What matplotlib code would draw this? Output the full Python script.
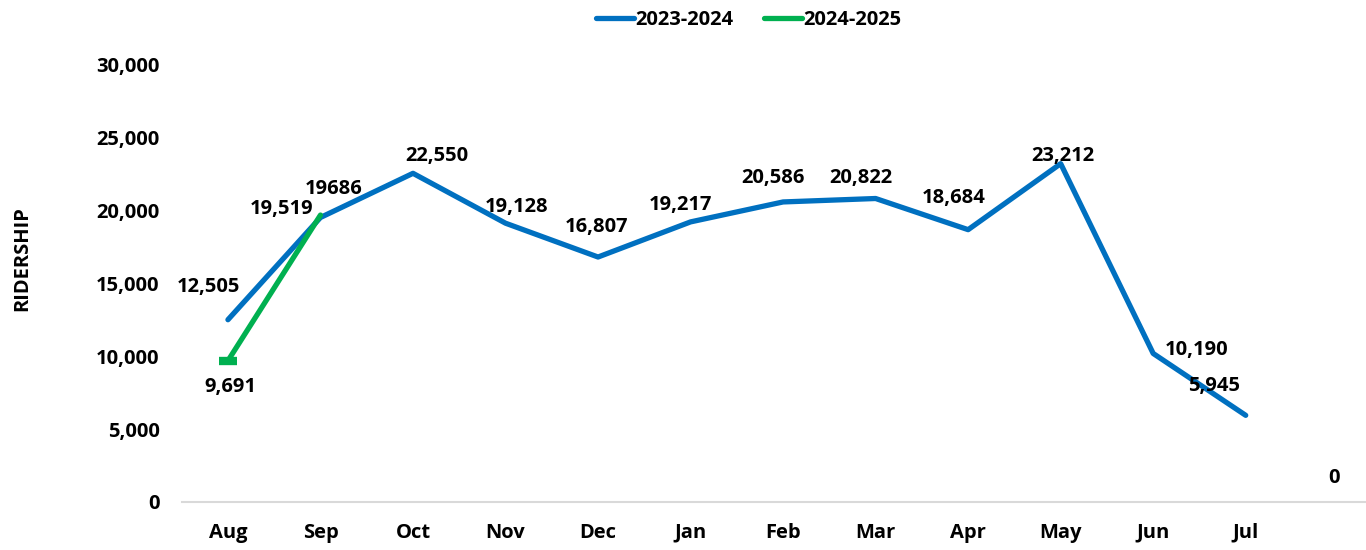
import matplotlib.pyplot as plt
from matplotlib.ticker import FuncFormatter

plt.rcParams['font.family'] = ['Open Sans', 'DejaVu Sans']
plt.rcParams['font.weight'] = 'bold'

months = ['Aug', 'Sep', 'Oct', 'Nov', 'Dec', 'Jan', 'Feb', 'Mar', 'Apr', 'May', 'Jun', 'Jul', '']
rides_2324 = [12505, 19519, 22550, 19128, 16807, 19217, 20586, 20822, 18684, 23212, 10190, 5945]
rides_2425 = [9691, 19686]
total_end = 0  # trailing empty column

# label offsets in pixels (dx, dy) so the numbers sit clear of the line
off_2324 = [(-20, 33), (-39, 8), (24, 17), (11, 16), (-2, 30), (-10, 17),
            (-10, 24), (-15, 21), (-14, 32), (2, 8), (43, 3), (-32, 29)]
off_2425 = [(2, -26), (13, 26)]

blue = '#0070C0'
green = '#00B050'
fs = 14.5

fig = plt.figure(figsize=(13.66, 5.5), dpi=100)
ax = fig.add_axes([0.133, 0.0873, 0.867, 0.795])

x = list(range(len(months)))
ax.plot(x[:len(rides_2324)], rides_2324, color=blue, lw=3.8,
        solid_capstyle='round', solid_joinstyle='round', label='2023-2024')
ax.plot(x[:len(rides_2425)], rides_2425, color=green, lw=3.8,
        solid_capstyle='round', solid_joinstyle='round', label='2024-2025')
# flat end marker on the first green point
ax.plot(x[0], rides_2425[0], color=green, marker='_', markersize=13,
        markeredgewidth=6, linestyle='none')

for i, v in enumerate(rides_2324):
    ax.annotate(f'{v:,}', (i, v), xytext=off_2324[i], textcoords='offset pixels',
                ha='center', va='center', fontsize=fs, fontweight='bold')
for i, v in enumerate(rides_2425):
    txt = f'{v:,}' if i == 0 else str(v)
    ax.annotate(txt, (i, v), xytext=off_2425[i], textcoords='offset pixels',
                ha='center', va='center', fontsize=fs, fontweight='bold')
ax.annotate(f'{total_end:,}', (12, total_end), xytext=(-4, 24), textcoords='offset pixels',
            ha='center', va='center', fontsize=fs, fontweight='bold')

ax.set_xlim(-0.5, 12.3)
ax.set_ylim(0, 30000)
ax.set_yticks(range(0, 30001, 5000))
ax.yaxis.set_major_formatter(FuncFormatter(lambda v, p: f'{int(v):,}'))
ax.set_xticks(x)
ax.set_xticklabels(months)
ax.tick_params(axis='both', length=0, labelsize=fs)
ax.tick_params(axis='y', pad=16)
ax.tick_params(axis='x', pad=15)
for lbl in ax.get_xticklabels() + ax.get_yticklabels():
    lbl.set_fontweight('bold')

for s in ['top', 'right', 'left']:
    ax.spines[s].set_visible(False)
ax.spines['bottom'].set_color('#d9d9d9')
ax.spines['bottom'].set_linewidth(1.5)

fig.text(0.016, 0.53, 'RIDERSHIP', rotation=90, ha='center', va='center',
         fontsize=fs, fontweight='bold')

fig.legend(loc='upper center', bbox_to_anchor=(0.548, 1.015), ncol=2, frameon=False,
           handlelength=1.9, handletextpad=0.05, columnspacing=1.55,
           prop={'weight': 'bold', 'size': fs})

fig.savefig('out.png', dpi=100)
